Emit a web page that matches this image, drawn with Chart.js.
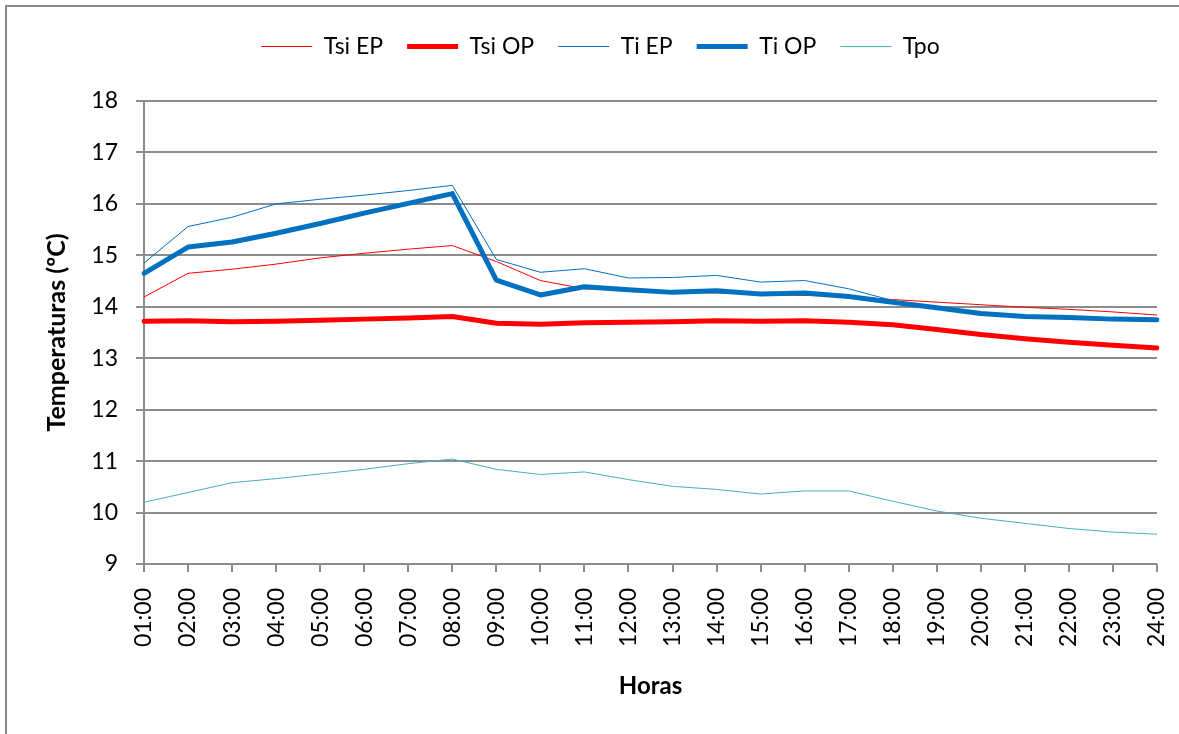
<!DOCTYPE html>
<html>
<head>
<meta charset="utf-8">
<title>Temperaturas por hora</title>
<script src="https://cdn.jsdelivr.net/npm/chart.js@4.4.1/dist/chart.umd.min.js"></script>
<style>
    html, body { margin: 0; padding: 0; background: #fff; overflow: hidden; }
    canvas { display: block; }
</style>
</head>
<body>
<canvas id="chart" width="1179" height="734"></canvas>
<script>
// Hourly temperatures (ºC)
const hours = ['01:00', '02:00', '03:00', '04:00', '05:00', '06:00', '07:00', '08:00',
               '09:00', '10:00', '11:00', '12:00', '13:00', '14:00', '15:00', '16:00',
               '17:00', '18:00', '19:00', '20:00', '21:00', '22:00', '23:00', '24:00'];

const tsiEP = [14.19, 14.65, 14.73, 14.83, 14.95, 15.04, 15.12, 15.19, 14.88, 14.51, 14.35, 14.32,
               14.28, 14.27, 14.24, 14.22, 14.20, 14.14, 14.09, 14.04, 13.99, 13.95, 13.90, 13.84];
const tsiOP = [13.72, 13.73, 13.71, 13.72, 13.74, 13.76, 13.78, 13.81, 13.68, 13.66, 13.69, 13.70,
               13.71, 13.73, 13.72, 13.73, 13.70, 13.65, 13.56, 13.46, 13.38, 13.31, 13.25, 13.20];
const tiEP  = [14.85, 15.56, 15.74, 16.00, 16.09, 16.17, 16.26, 16.36, 14.92, 14.67, 14.74, 14.56,
               14.57, 14.61, 14.48, 14.51, 14.35, 14.12, 13.98, 13.87, 13.81, 13.79, 13.76, 13.75];
const tiOP  = [14.65, 15.16, 15.26, 15.43, 15.62, 15.82, 16.01, 16.20, 14.52, 14.23, 14.39, 14.33,
               14.28, 14.31, 14.25, 14.27, 14.20, 14.09, 13.98, 13.87, 13.81, 13.79, 13.76, 13.75];
const tpo   = [10.20, 10.39, 10.58, 10.66, 10.75, 10.84, 10.95, 11.04, 10.84, 10.74, 10.79, 10.64,
               10.51, 10.45, 10.36, 10.42, 10.42, 10.22, 10.03, 9.89, 9.79, 9.69, 9.62, 9.58];

const gridGray = '#8c8c8c';

Chart.defaults.font.family = 'Lato, "Open Sans", sans-serif';
Chart.defaults.color = '#000';

// Extra room below the legend before the plot starts
const legendGap = {
    id: 'legendGap',
    beforeInit(chart) {
        const fit = chart.legend.fit;
        chart.legend.fit = function () {
            fit.bind(chart.legend)();
            this.height += 33;
        };
    }
};

// Outer frame of the chart object (left and top edges fall inside the canvas)
const chartFrame = {
    id: 'chartFrame',
    beforeDraw(chart) {
        const ctx = chart.ctx;
        ctx.save();
        ctx.strokeStyle = '#8a8a8a';
        ctx.lineWidth = 2;
        ctx.beginPath();
        ctx.moveTo(6, chart.height + 5);
        ctx.lineTo(6, 6);
        ctx.lineTo(chart.width + 5, 6);
        ctx.stroke();
        ctx.restore();
    }
};

function series(label, data, color, width, order) {
    return {
        label: label,
        data: data,
        borderColor: color,
        backgroundColor: color,
        borderWidth: width,
        borderCapStyle: width > 2 ? 'round' : 'butt',
        borderJoinStyle: 'round',
        pointRadius: 0,
        pointHoverRadius: 0,
        tension: 0,
        fill: false,
        order: order
    };
}

new Chart(document.getElementById('chart'), {
    type: 'line',
    data: {
        labels: hours,
        datasets: [
            series('Tsi EP', tsiEP, '#ff0000', 1, 5),
            series('Tsi OP', tsiOP, '#ff0000', 5, 4),
            series('Ti EP', tiEP, '#0070c0', 1, 3),
            series('Ti OP', tiOP, '#0070c0', 5, 2),
            series('Tpo', tpo, '#4bacc6', 1, 1)
        ]
    },
    options: {
        responsive: false,
        devicePixelRatio: 1,
        animation: false,
        layout: {
            padding: { top: 11, right: 0, bottom: 0, left: 22 }
        },
        plugins: {
            tooltip: { enabled: false },
            legend: {
                display: true,
                position: 'top',
                labels: {
                    usePointStyle: true,
                    pointStyle: 'line',
                    pointStyleWidth: 51,
                    padding: 24,
                    font: { size: 23 },
                    color: '#000',
                    sort: function(a, b) {
                        return a.datasetIndex - b.datasetIndex;
                    }
                }
            }
        },
        scales: {
            x: {
                offset: false,
                afterFit: function(scale) {
                    scale.height = 170;
                    scale.paddingRight = 22;
                },
                title: {
                    display: true,
                    text: 'Horas',
                    font: { size: 24, weight: 'bold' },
                    padding: { top: 0, bottom: 33 }
                },
                grid: {
                    drawOnChartArea: false,
                    drawTicks: true,
                    tickLength: 8,
                    color: gridGray,
                    lineWidth: 2
                },
                border: { display: false },
                ticks: {
                    autoSkip: false,
                    minRotation: 90,
                    maxRotation: 90,
                    padding: 16,
                    font: { size: 23 }
                }
            },
            y: {
                min: 9,
                max: 18,
                afterFit: function(scale) { scale.width = 122; },
                title: {
                    display: true,
                    text: 'Temperaturas (ºC)',
                    font: { size: 25, weight: 'bold' },
                    padding: { top: 20, bottom: 0 }
                },
                grid: {
                    drawOnChartArea: true,
                    drawTicks: true,
                    tickLength: 8,
                    color: gridGray,
                    lineWidth: 2
                },
                border: { display: true, color: gridGray, width: 2 },
                ticks: {
                    stepSize: 1,
                    padding: 18,
                    font: { size: 23 }
                }
            }
        }
    },
    plugins: [legendGap, chartFrame]
});
</script>
</body>
</html>
